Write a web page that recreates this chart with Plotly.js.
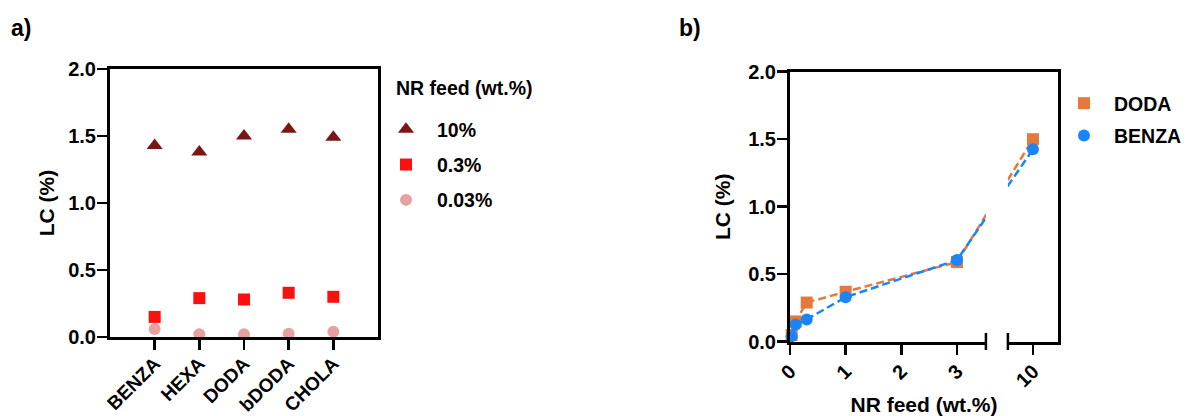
<!DOCTYPE html>
<html><head><meta charset="utf-8">
<script src="https://cdn.plot.ly/plotly-3.0.1.min.js"></script>
<style>html,body{margin:0;padding:0;background:#fff}</style>
</head><body><div id="chart" style="width:1187px;height:416px"></div>
<script>
// ---- data: panel a ----
const categories = ['BENZA', 'HEXA', 'DODA', 'bDODA', 'CHOLA'];
const lc10 = [1.43, 1.38, 1.50, 1.55, 1.49];
const lc03 = [0.15, 0.29, 0.28, 0.33, 0.30];
const lc003 = [0.06, 0.02, 0.02, 0.025, 0.04];
const seriesNamesA = ['10%', '0.3%', '0.03%'];
const legendTitleA = 'NR feed (wt.%)';

// ---- data: panel b ----
const nrFeed = [0.03, 0.1, 0.3, 1, 3, 10];
const lcDODA = [0.05, 0.15, 0.29, 0.37, 0.59, 1.50];
const lcBENZA = [0.04, 0.125, 0.165, 0.33, 0.605, 1.425];
const tickValsB = [0, 1, 2, 3, 10];
const tickTextB = ['0', '1', '2', '3', '10'];

// ---- broken x axis (panel b) ----
const LEFT_MAX = 3.52, GAP = 0.395, RIGHT_MIN = 9.55, RIGHT_MAX = 10.45;
const TOTAL = LEFT_MAX + GAP + (RIGHT_MAX - RIGHT_MIN);
function brk(x) { return x <= LEFT_MAX ? x : LEFT_MAX + GAP + (x - RIGHT_MIN); }

const W = 1187, H = 416;
const px = x => x / W;
const py = y => 1 - y / H;
const FONT = 'Liberation Sans, Arial, Helvetica, sans-serif';

const domAx = [px(110), px(378)], domAy = [py(337), py(69)];
const domBx = [px(790), px(1058)], domBy = [py(341.7), py(71.7)];

const C10 = '#7a1616', C03 = '#fb0f0f', C003 = '#e8a1a1';
const CDODA = '#e5793b', CBENZA = '#1a84fb';

const traces = [
  {type: 'scatter', mode: 'markers', x: categories, y: lc10, name: seriesNamesA[0],
   marker: {symbol: 'triangle-up', size: 14, color: C10}, xaxis: 'x', yaxis: 'y',
   legend: 'legend', legendgroup: 'a1', cliponaxis: false},
  {type: 'scatter', mode: 'markers', x: categories, y: lc03, name: seriesNamesA[1],
   marker: {symbol: 'square', size: 12, color: C03}, xaxis: 'x', yaxis: 'y',
   legend: 'legend', legendgroup: 'a2', cliponaxis: false},
  {type: 'scatter', mode: 'markers', x: categories, y: lc003, name: seriesNamesA[2],
   marker: {symbol: 'circle', size: 12, color: C003}, xaxis: 'x', yaxis: 'y',
   legend: 'legend', legendgroup: 'a3', cliponaxis: false},

  {type: 'scatter', mode: 'lines', x: nrFeed.map(brk), y: lcDODA, showlegend: false,
   line: {color: CDODA, width: 2.5, dash: '8px,4px'}, xaxis: 'x2', yaxis: 'y2'},
  {type: 'scatter', mode: 'markers', x: nrFeed.map(brk), y: lcDODA, name: 'DODA',
   marker: {symbol: 'square', size: 12, color: CDODA}, xaxis: 'x2', yaxis: 'y2',
   legend: 'legend2', legendgroup: 'b1', cliponaxis: false},
  {type: 'scatter', mode: 'lines', x: nrFeed.map(brk), y: lcBENZA, showlegend: false,
   line: {color: CBENZA, width: 2.5, dash: '8px,4px'}, xaxis: 'x2', yaxis: 'y2'},
  {type: 'scatter', mode: 'markers', x: nrFeed.map(brk), y: lcBENZA, name: 'BENZA',
   marker: {symbol: 'circle', size: 12, color: CBENZA}, xaxis: 'x2', yaxis: 'y2',
   legend: 'legend2', legendgroup: 'b2', cliponaxis: false}
];

const tickFont = {family: FONT, size: 20, color: '#000', weight: 'bold'};
const catFont = {family: FONT, size: 19, color: '#000', weight: 'bold'};
const titleFont = {family: FONT, size: 21, color: '#000', weight: 'bold'};
const legFont = {family: FONT, size: 19.5, color: '#000', weight: 'bold'};

const axCommon = {
  showgrid: false, zeroline: false, showline: true, linecolor: '#000', linewidth: 3,
  ticks: 'outside', ticklen: 10, tickwidth: 2.5, tickcolor: '#000', tickfont: tickFont,
  automargin: false, fixedrange: true
};

// break geometry in paper coords
const gx0 = domBx[0] + (LEFT_MAX / TOTAL) * (domBx[1] - domBx[0]);
const gx1 = domBx[0] + ((LEFT_MAX + GAP) / TOTAL) * (domBx[1] - domBx[0]);

const layout = {
  width: W, height: H,
  margin: {l: 0, r: 0, t: 0, b: 0},
  paper_bgcolor: '#fff', plot_bgcolor: '#fff',
  font: {family: FONT, color: '#000'},
  xaxis: Object.assign({}, axCommon, {
    domain: domAx, anchor: 'y', type: 'category', range: [-1, 5],
    mirror: true, tickangle: -45, tickfont: catFont, ticklabelstandoff: -5
  }),
  yaxis: Object.assign({}, axCommon, {
    domain: domAy, anchor: 'x', range: [0, 2], dtick: 0.5, tickformat: '.1f',
    mirror: true, ticklabelstandoff: -3, title: {text: 'LC (%)', font: titleFont, standoff: 8}
  }),
  xaxis2: Object.assign({}, axCommon, {
    domain: domBx, anchor: 'y2', range: [0, TOTAL], mirror: true, tickangle: -45,
    tickmode: 'array', tickvals: tickValsB.map(brk), ticktext: tickTextB, ticklabelstandoff: -3,
    title: {text: 'NR feed (wt.%)', font: titleFont, standoff: 12}
  }),
  yaxis2: Object.assign({}, axCommon, {
    domain: domBy, anchor: 'x2', range: [0, 2], dtick: 0.5, tickformat: '.1f',
    mirror: true, ticklabelstandoff: -3, title: {text: 'LC (%)', font: titleFont, standoff: 12}
  }),
  legend: {
    x: px(375), y: py(110), xanchor: 'left', yanchor: 'top',
    bgcolor: 'rgba(0,0,0,0)', font: legFont,
    tracegroupgap: 7, itemwidth: 52
  },
  legend2: {
    x: 1, y: py(84), xanchor: 'right', yanchor: 'top',
    bgcolor: 'rgba(0,0,0,0)', font: legFont,
    tracegroupgap: 4, itemwidth: 50
  },
  shapes: [
    // gap of the broken axis
    {type: 'rect', xref: 'paper', yref: 'paper', x0: gx0, x1: gx1, y0: py(347), y1: py(74),
     fillcolor: '#fff', line: {width: 0}, layer: 'above'},
    // end caps of the break
    {type: 'line', xref: 'paper', yref: 'paper', x0: gx0, x1: gx0, y0: py(350), y1: py(333),
     line: {color: '#000', width: 2.5}, layer: 'above'},
    {type: 'line', xref: 'paper', yref: 'paper', x0: gx1, x1: gx1, y0: py(350), y1: py(333),
     line: {color: '#000', width: 2.5}, layer: 'above'}
  ],
  annotations: [
    {text: 'a)', xref: 'paper', yref: 'paper', x: px(9), y: py(28), xanchor: 'left', yanchor: 'middle',
     showarrow: false, font: {family: FONT, size: 23, color: '#000', weight: 'bold'}},
    {text: 'b)', xref: 'paper', yref: 'paper', x: px(677), y: py(28), xanchor: 'left', yanchor: 'middle',
     showarrow: false, font: {family: FONT, size: 23, color: '#000', weight: 'bold'}},
    {text: legendTitleA, xref: 'paper', yref: 'paper', x: px(394), y: py(88), xanchor: 'left', yanchor: 'middle',
     showarrow: false, font: legFont}
  ],
  showlegend: true
};

Plotly.newPlot('chart', traces, layout, {displayModeBar: false, staticPlot: true});
</script></body></html>
